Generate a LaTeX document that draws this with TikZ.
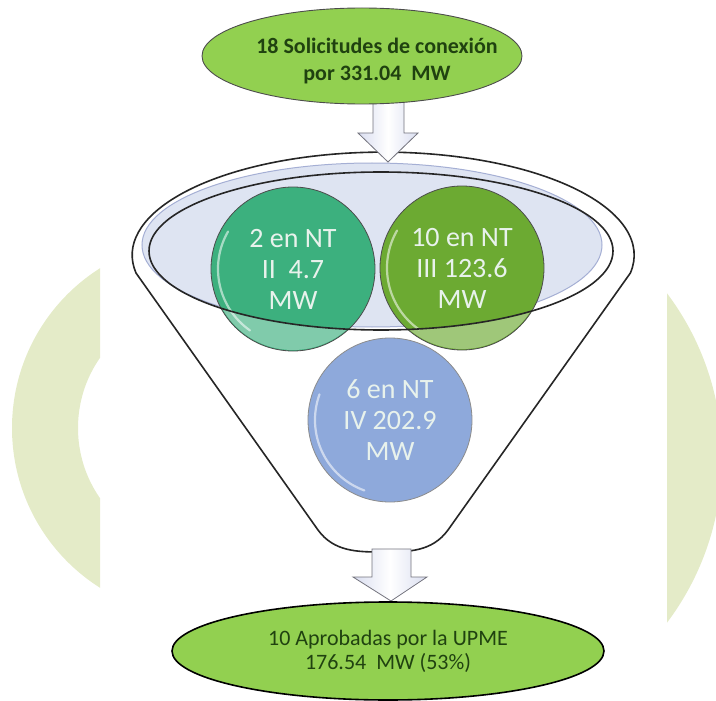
\documentclass[tikz,border=0pt]{standalone}
\usepackage{fontspec}
\setmainfont{Carlito}
\usetikzlibrary{shapes.geometric}
\definecolor{crescent}{RGB}{228,235,200}
\definecolor{olgreen}{RGB}{146,208,80}
\definecolor{txtgreen}{RGB}{32,66,16}
\definecolor{lav}{RGB}{222,228,242}
\definecolor{lavline}{RGB}{165,175,212}
\definecolor{tealc}{RGB}{60,176,126}
\definecolor{olivec}{RGB}{108,170,50}
\definecolor{bluec}{RGB}{142,169,219}
\definecolor{ctext}{RGB}{232,242,236}
\definecolor{arrowfill}{RGB}{218,222,240}
\definecolor{arrowline}{RGB}{115,115,125}
\begin{document}
\begin{tikzpicture}[x=1pt,y=-1pt,
  ell/.style={ellipse, fill=olgreen, inner sep=0pt},
  ball/.style={circle, minimum size=164pt, inner sep=0pt, draw=black!70,
    line width=0.8pt, text=ctext, align=center,
    font=\fontsize{28}{31}\selectfont},
  blockarrow/.style={draw=arrowline, line width=0.8pt, shading=axis,
    left color=arrowfill, right color=arrowfill, middle color=white},
  gloss/.style={white, opacity=0.55, line width=2.2pt, line cap=round}]
\useasboundingbox (0,0) rectangle (716,701);

% background decorations
\begin{scope}
  \clip (0,0) rectangle (100,701);
  \fill[crescent, even odd rule] (201,428) circle (189pt) (201,428) circle (123pt);
\end{scope}
\begin{scope}
  \clip (667,0) rectangle (716,701);
  \fill[crescent] (448,458) circle (274pt);
\end{scope}

% funnel body
\draw[fill=white, draw=black!85, line width=1.6pt]
  (136,273) arc[start angle=170, end angle=370, x radius=251, y radius=103]
  -- (448,530) .. controls (432,552) and (408,552) .. (383,552)
  .. controls (358,552) and (334,552) .. (318,530) -- cycle;
\fill[lav, draw=lavline, line width=1pt] (372,245) ellipse [x radius=230, y radius=82];

% circles
\node[ball, fill=tealc] (c1) at (293,269) {2 en NT\\II\ \ 4.7\\MW};
\node[ball, fill=olivec] (c2) at (462,268) {10 en NT\\III 123.6\\MW};
\node[ball, fill=bluec, draw=black!45] (c3) at (390,420) {6 en NT\\IV 202.9\\MW};

% lighten the parts of the upper circles outside the opening
\begin{scope}
  \clip (293,269) circle (81pt) (462,268) circle (81pt);
  \fill[white, opacity=0.35, even odd rule] (0,0) rectangle (716,701)
    (381,251) ellipse [x radius=232, y radius=79];
\end{scope}

% gloss highlights
\draw[gloss] (c1.center) ++(150:75pt) arc[start angle=150, end angle=235, radius=75pt];
\draw[gloss] (c2.center) ++(150:75pt) arc[start angle=150, end angle=235, radius=75pt];
\draw[gloss] (c3.center) ++(160:75pt) arc[start angle=160, end angle=250, radius=75pt];

% funnel opening rim
\draw[line width=1.6pt, black!85] (381,251) ellipse [x radius=232, y radius=79];

% top ellipse and arrow
\path[blockarrow] (373,100) -- (373,133) -- (358,133) -- (388,162) -- (418,133)
  -- (404,133) -- (404,100) -- cycle;
\node[ell, minimum width=320pt, minimum height=96pt, draw=black!70, line width=0.9pt]
  (top) at (362,56) {};
\node[text=txtgreen, font=\fontsize{22}{27}\selectfont\bfseries, align=center]
  (toptext) at (377,61) {18 Solicitudes de conexión\\por 331.04\ \ MW};

% bottom arrow and ellipse
\path[blockarrow] (372,549) -- (372,577) -- (353,577) -- (391,601) -- (427,577)
  -- (411,577) -- (411,549) -- cycle;
\node[ell, minimum width=432pt, minimum height=98pt, draw=black, line width=1.6pt,
  text=txtgreen, font=\fontsize{22}{24}\selectfont, align=center]
  (bot) at (388,651) {10 Aprobadas por la UPME\\176.54\ \ MW (53\%)};
\end{tikzpicture}
\end{document}
